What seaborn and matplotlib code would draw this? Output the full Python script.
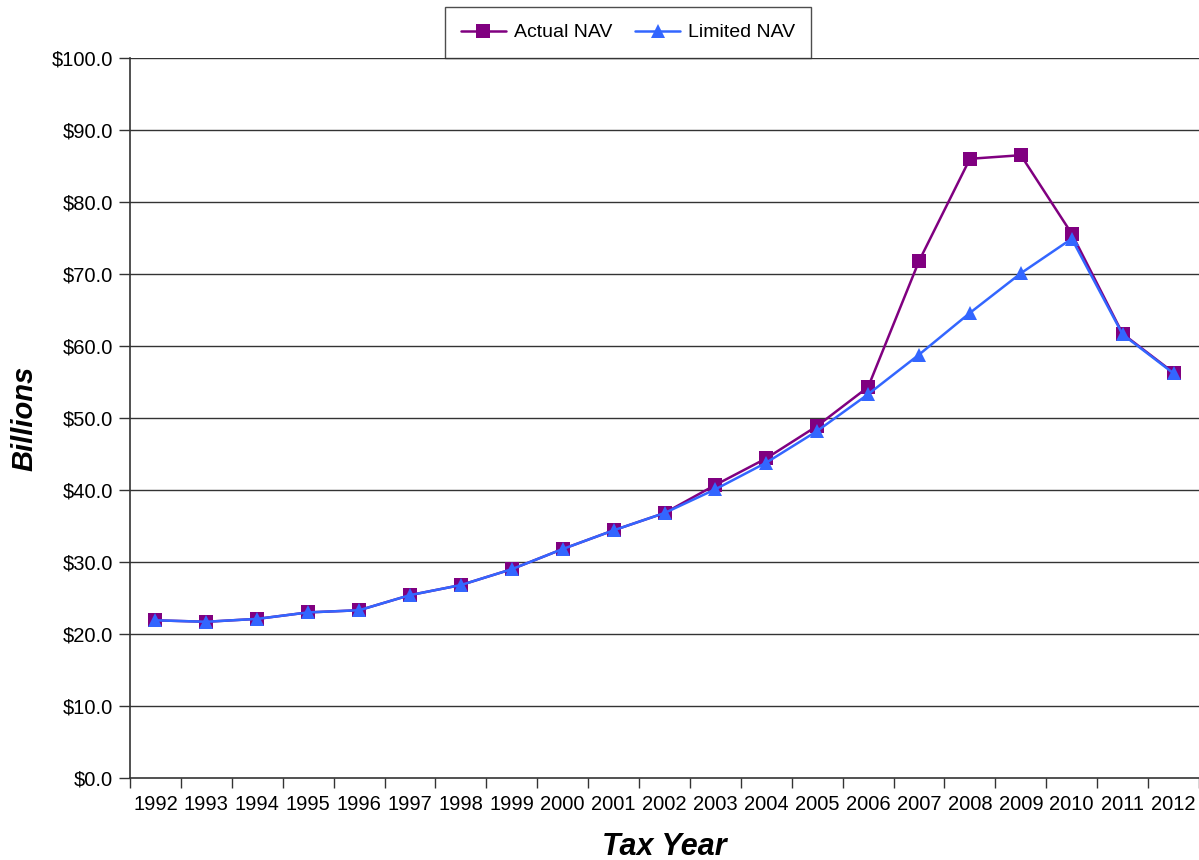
import numpy as np
import pandas as pd
import seaborn as sns
import matplotlib.pyplot as plt
from matplotlib.ticker import FuncFormatter, FixedLocator

years = [str(y) for y in range(1992, 2013)]
actual_nav = [21.9, 21.7, 22.1, 23.0, 23.3, 25.4, 26.8, 29.0, 31.8, 34.4, 36.8,
              40.7, 44.4, 48.9, 54.3, 71.8, 86.0, 86.5, 75.6, 61.7, 56.3]
limited_nav = [21.9, 21.7, 22.1, 23.0, 23.3, 25.4, 26.8, 29.0, 31.8, 34.4, 36.8,
               40.1, 43.8, 48.2, 53.3, 58.8, 64.6, 70.1, 74.9, 61.6, 56.2]

sns.set_style("white")
plt.rcParams['font.family'] = ['Liberation Sans', 'DejaVu Sans']
plt.rcParams['text.color'] = 'black'
plt.rcParams['axes.labelcolor'] = 'black'
plt.rcParams['xtick.color'] = 'black'
plt.rcParams['ytick.color'] = 'black'

df = pd.DataFrame({
    "idx": list(range(len(years))) * 2,
    "value": actual_nav + limited_nav,
    "series": ["Actual NAV"] * len(years) + ["Limited NAV"] * len(years),
})

fig = plt.figure(figsize=(11.99, 8.6), dpi=100)
ax = fig.add_axes([130 / 1199, 82 / 860, 1 - 130 / 1199, (778 - 58) / 860])

# horizontal gridlines
for y in np.arange(10, 101, 10):
    ax.axhline(y, color="#333333", lw=1.0, zorder=0)

ax = sns.lineplot(data=df, x="idx", y="value", hue="series", style="series",
                  markers=["s", "^"], dashes=False, markersize=10,
                  palette=["#800080", "#3366FF"], linewidth=1.8,
                  markeredgewidth=0, ax=ax)

ax.set_xlim(-0.5, len(years) - 0.5)
ax.set_ylim(0, 100)
ax.yaxis.set_major_locator(FixedLocator(np.arange(0, 101, 10)))
ax.yaxis.set_major_formatter(FuncFormatter(lambda v, p: f"${v:.1f}"))
ax.set_xticks(range(len(years)))
ax.set_xticklabels(years)
ax.xaxis.set_minor_locator(FixedLocator(np.arange(-0.5, len(years), 1)))
ax.tick_params(axis="x", which="major", length=0, labelsize=14.5, pad=12)
ax.tick_params(axis="x", which="minor", length=7, width=1, color="#333333", direction="out", bottom=True)
ax.tick_params(axis="y", length=8, width=1, color="#333333", labelsize=14.5, left=True, pad=4)

for s in ["top", "right"]:
    ax.spines[s].set_visible(False)
for s in ["left", "bottom"]:
    ax.spines[s].set_color("#333333")
    ax.spines[s].set_linewidth(1.2)

ax.set_xlabel("Tax Year", fontsize=22, fontweight="bold", fontstyle="italic", labelpad=13)
ax.set_ylabel("Billions", fontsize=21, fontweight="bold", fontstyle="italic", labelpad=10)

leg = ax.legend(loc="lower center", ncol=2, fontsize=14, frameon=True,
                fancybox=False, edgecolor="#222222", handlelength=2.3,
                borderpad=0.85, columnspacing=1.2, handletextpad=0.4, borderaxespad=0,
                bbox_to_anchor=((628 - 130) / (1199 - 130), 1.0))
leg.get_frame().set_linewidth(1.0)

fig.savefig("out.png", dpi=100)
